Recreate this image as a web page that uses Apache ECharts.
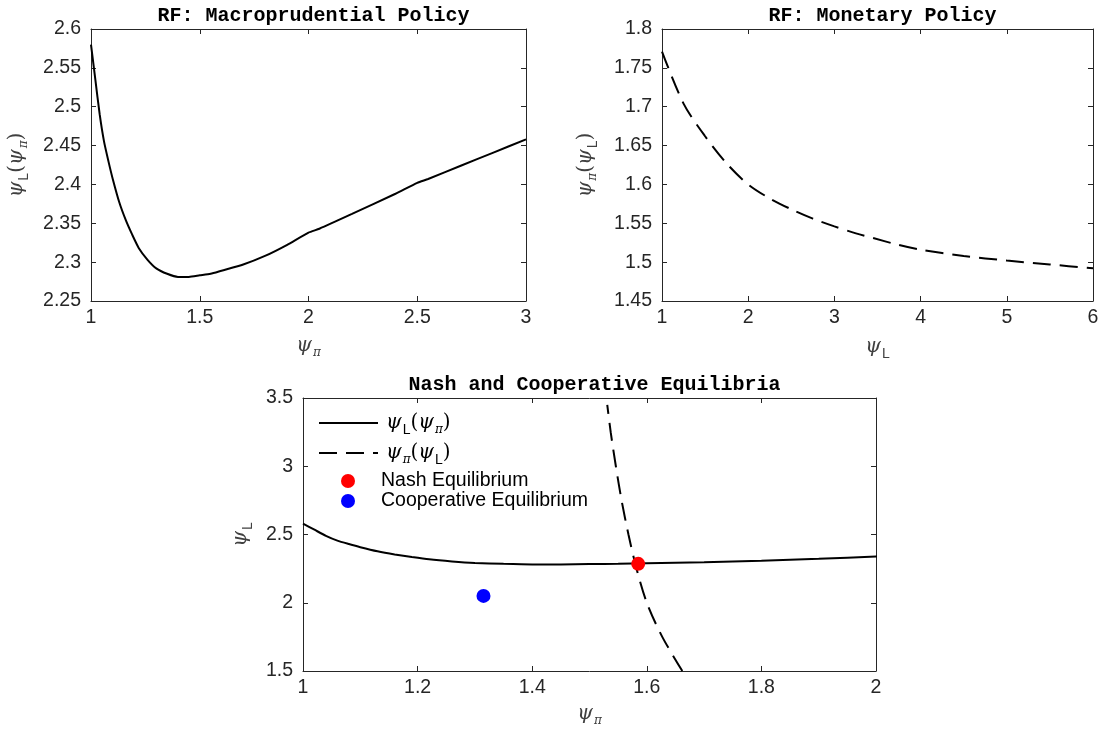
<!DOCTYPE html>
<html>
<head>
<meta charset="utf-8">
<script src="https://cdn.jsdelivr.net/npm/echarts@6/dist/echarts.min.js"></script>
<style>
  html, body { margin: 0; padding: 0; background: #fff; }
  #chart { width: 1106px; height: 735px; }
</style>
</head>
<body>
<div id="chart"></div>
<script>
  // reaction function of macroprudential policy: psiL as function of psiPi
  const macroPsiPi = [1, 1.02, 1.04, 1.06, 1.08, 1.1, 1.13, 1.16, 1.19, 1.22, 1.26, 1.3, 1.35, 1.4, 1.45, 1.5, 1.55, 1.6, 1.7, 1.8, 1.9, 2.0, 2.05, 2.2, 2.4, 2.5, 2.55, 2.7, 2.85, 3.0];
  const macroPsiL = [2.580, 2.535, 2.490, 2.455, 2.430, 2.407, 2.377, 2.354, 2.335, 2.318, 2.303, 2.292, 2.285, 2.281, 2.281, 2.283, 2.285, 2.289, 2.297, 2.308, 2.322, 2.338, 2.343, 2.362, 2.388, 2.402, 2.407, 2.424, 2.441, 2.458];

  // reaction function of monetary policy: psiPi as function of psiL
  const monPsiL = [1, 1.25, 1.5, 1.75, 2, 2.25, 2.5, 2.75, 3, 3.25, 3.45, 3.75, 4, 4.5, 5, 5.5, 6];
  const monPsiPi = [1.771, 1.704, 1.662, 1.627, 1.600, 1.582, 1.568, 1.556, 1.546, 1.537, 1.531, 1.522, 1.516, 1.508, 1.502, 1.497, 1.492];

  // equilibria [psiPi, psiL]
  const nashPoint = [1.585, 2.285];
  const coopPoint = [1.315, 2.05];

  const titles = ['RF: Macroprudential Policy', 'RF: Monetary Policy', 'Nash and Cooperative Equilibria'];

  const ink = '#262626';
  const nameColor = '#404040';
  const rich = {
    p: { fontFamily: 'DejaVu Serif', fontStyle: 'italic', fontSize: 20, color: nameColor },
    s: { fontFamily: 'Liberation Sans', fontSize: 14, color: nameColor, padding: [14, 0, 0, 1] },
    si: { fontFamily: 'DejaVu Serif', fontStyle: 'italic', fontSize: 12, color: nameColor, padding: [14, 0, 0, 1] },
    b: { fontFamily: 'DejaVu Serif', fontSize: 20, color: nameColor }
  };
  const legRich = {
    p: Object.assign({}, rich.p, { color: '#000' }),
    s: Object.assign({}, rich.s, { color: '#000' }),
    si: Object.assign({}, rich.si, { color: '#000' }),
    b: Object.assign({}, rich.b, { color: '#000' })
  };
  const nameL_Pi = '{p|ψ}{s|L}{b|(}{p|ψ}{si|π}{b|)}';
  const namePi_L = '{p|ψ}{si|π}{b|(}{p|ψ}{s|L}{b|)}';
  const namePi = '{p|ψ}{si|π}';
  const nameL = '{p|ψ}{s|L}';

  const grids = [
    { left: 91, top: 29, width: 435, height: 272 },
    { left: 662, top: 29, width: 431, height: 272 },
    { left: 303, top: 398, width: 573, height: 273 }
  ];

  const xAxes = [], yAxes = [];
  function addAxes(g, xr, yr, xName, yName, xGap, yGap) {
    const tick = { show: true, inside: true, length: 5, lineStyle: { color: ink, width: 1 } };
    const line = { show: true, onZero: false, lineStyle: { color: ink, width: 1 } };
    xAxes.push({
      type: 'value', gridIndex: g, position: 'bottom', min: xr[0], max: xr[1], interval: xr[2],
      axisLine: line, axisTick: tick, splitLine: { show: false },
      axisLabel: { color: ink, fontFamily: 'Liberation Sans', fontSize: 19.5, margin: 7 },
      name: xName, nameLocation: 'middle', nameGap: xGap, nameTextStyle: { rich: rich }
    });
    xAxes.push({
      type: 'value', gridIndex: g, position: 'top', min: xr[0], max: xr[1], interval: xr[2],
      axisLine: line, axisTick: tick, splitLine: { show: false }, axisLabel: { show: false }
    });
    yAxes.push({
      type: 'value', gridIndex: g, position: 'left', min: yr[0], max: yr[1], interval: yr[2],
      axisLine: line, axisTick: tick, splitLine: { show: false },
      axisLabel: { color: ink, fontFamily: 'Liberation Sans', fontSize: 19.5, margin: 10 },
      name: yName, nameLocation: 'middle', nameGap: yGap, nameTextStyle: { rich: rich }
    });
    yAxes.push({
      type: 'value', gridIndex: g, position: 'right', min: yr[0], max: yr[1], interval: yr[2],
      axisLine: line, axisTick: tick, splitLine: { show: false }, axisLabel: { show: false }
    });
  }
  addAxes(0, [1, 3, 0.5], [2.25, 2.6, 0.05], namePi, nameL_Pi, 32, 60);
  addAxes(1, [1, 6, 1], [1.45, 1.8, 0.05], nameL, namePi_L, 32, 62);
  addAxes(2, [1, 2, 0.2], [1.5, 3.5, 0.5], namePi, nameL, 30, 47);

  const macroData = macroPsiPi.map((x, i) => [x, macroPsiL[i]]);
  const monData = monPsiL.map((x, i) => [x, monPsiPi[i]]);
  // swapped axes for the equilibrium panel
  const monSwapped = monPsiL
    .map((l, i) => [monPsiPi[i], l])
    .filter(d => d[1] >= 1.5 && d[1] <= 3.45);

  const dash = [18, 9];

  const option = {
    animation: false,
    backgroundColor: '#fff',
    title: titles.map((t, i) => ({
      text: t,
      left: grids[i].left + grids[i].width / 2,
      top: grids[i].top - 28,
      textAlign: 'center',
      textStyle: { fontFamily: 'Liberation Mono', fontWeight: 'bold', fontSize: 20, color: '#000' }
    })),
    grid: grids,
    xAxis: xAxes,
    yAxis: yAxes,
    legend: [
      {
        data: ['psiL', 'psiPi'],
        orient: 'vertical', left: 313, top: 408, itemWidth: 59, itemHeight: 14, itemGap: 6,
        selectedMode: false,
        itemStyle: { opacity: 0 },
        formatter: n => n === 'psiL' ? nameL_Pi : namePi_L,
        textStyle: { rich: legRich, padding: [0, 0, 0, 3] }
      },
      {
        data: ['Nash Equilibrium', 'Cooperative Equilibrium'],
        orient: 'vertical', left: 336, top: 466, itemWidth: 14, itemHeight: 14, itemGap: 0,
        selectedMode: false, icon: 'circle',
        itemStyle: { opacity: 1 },
        textStyle: { color: '#000', fontFamily: 'Liberation Sans', fontSize: 19.5, padding: [0, 0, 0, 21] }
      }
    ],
    series: [
      {
        name: 'macroRF', type: 'line', xAxisIndex: 0, yAxisIndex: 0,
        data: macroData, symbol: 'none', smooth: 0.2,
        lineStyle: { color: '#000', width: 2 }
      },
      {
        name: 'monRF', type: 'line', xAxisIndex: 2, yAxisIndex: 2,
        data: monData, symbol: 'none', smooth: 0.3,
        lineStyle: { color: '#000', width: 2, type: dash }
      },
      {
        name: 'psiL', type: 'line', xAxisIndex: 4, yAxisIndex: 4,
        data: macroData, symbol: 'none', smooth: 0.2, clip: true,
        itemStyle: { color: '#000' },
        lineStyle: { color: '#000', width: 2 }
      },
      {
        name: 'psiPi', type: 'line', xAxisIndex: 4, yAxisIndex: 4,
        data: monSwapped, symbol: 'none', smooth: 0.3, clip: true,
        itemStyle: { color: '#000' },
        lineStyle: { color: '#000', width: 2, type: dash }
      },
      {
        name: 'Nash Equilibrium', type: 'scatter', xAxisIndex: 4, yAxisIndex: 4,
        data: [nashPoint], symbol: 'circle', symbolSize: 14,
        itemStyle: { color: '#ff0000', opacity: 1 }, z: 5
      },
      {
        name: 'Cooperative Equilibrium', type: 'scatter', xAxisIndex: 4, yAxisIndex: 4,
        data: [coopPoint], symbol: 'circle', symbolSize: 14,
        itemStyle: { color: '#0000ff', opacity: 1 }, z: 5
      }
    ]
  };

  const chart = echarts.init(document.getElementById('chart'));
  chart.setOption(option);
</script>
</body>
</html>
